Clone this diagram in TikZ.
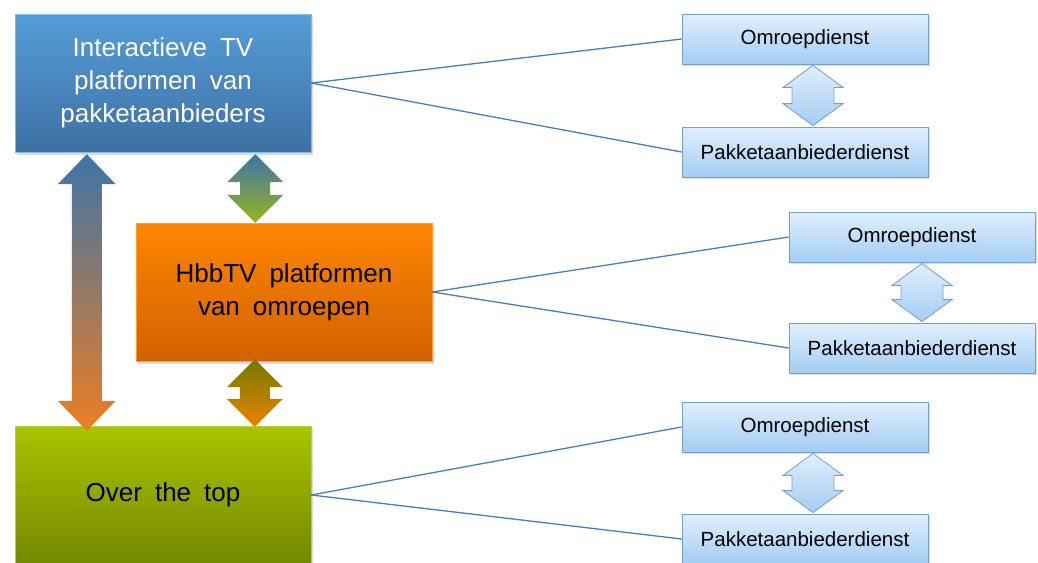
\documentclass[tikz,border=0pt]{standalone}
\usepackage{fontspec}
\setmainfont{Liberation Sans}
\usetikzlibrary{positioning}
\usetikzlibrary{calc}
\usetikzlibrary{shadows}
\definecolor{blauwboven}{RGB}{86,157,216}
\definecolor{blauwonder}{RGB}{61,112,163}
\definecolor{oranjeboven}{RGB}{255,134,2}
\definecolor{oranjeonder}{RGB}{208,98,0}
\definecolor{groenboven}{RGB}{170,196,0}
\definecolor{groenonder}{RGB}{116,136,0}
\definecolor{lichtboven}{RGB}{224,239,253}
\definecolor{lichtonder}{RGB}{164,205,243}
\definecolor{rand}{RGB}{112,160,208}
\definecolor{lijn}{RGB}{74,126,187}
\definecolor{pijlblauw}{RGB}{62,116,168}
\definecolor{pijloranje}{RGB}{236,126,34}
\definecolor{pijlgroen}{RGB}{150,182,28}
\definecolor{pijlolijf}{RGB}{118,120,0}
\definecolor{pijlgeel}{RGB}{232,132,0}
\tikzset{
    blok/.style={
        rectangle,
        minimum width=296pt,
        minimum height=138pt,
        align=center,
        font={\fontsize{26}{33}\selectfont\spaceskip=.5em\relax},
        drop shadow={shadow xshift=1.5pt, shadow yshift=-2.5pt, opacity=.3}},
    dienst/.style={
        rectangle,
        draw=rand,
        thick,
        top color=lichtboven,
        bottom color=lichtonder,
        minimum width=246pt,
        minimum height=50pt,
        font=\fontsize{20.5}{24}\selectfont,
        drop shadow={shadow xshift=1.5pt, shadow yshift=-2pt, opacity=.25}},
    every edge/.style={
        draw=lijn,
        line width=1.3pt}}
% dubbele blokpijl: stijl, top, onderkant, halve schacht, halve kop, koplengte
\newcommand{\dubbelpijl}[6]{%
    \path[#1] let \p1=(#2), \p2=(#3) in
        (\x1,\y1) -- (\x1+#5,\y1-#6) -- (\x1+#4,\y1-#6) -- (\x1+#4,\y2+#6)
        -- (\x1+#5,\y2+#6) -- (\x1,\y2) -- (\x1-#5,\y2+#6) -- (\x1-#4,\y2+#6)
        -- (\x1-#4,\y1-#6) -- (\x1-#5,\y1-#6) -- cycle;}

\begin{document}
\begin{tikzpicture}[x=1pt,y=-1pt]
        \useasboundingbox (0,0) rectangle (1038,562);

        \node[blok,top color=blauwboven,bottom color=blauwonder,draw=blauwboven!70!white,text=white] (itv) at (163,83) {Interactieve TV\\platformen van\\pakketaanbieders};
        \node[blok,top color=oranjeboven,bottom color=oranjeonder,draw=oranjeboven!80!white] (hbb) at (284,292) {HbbTV platformen\\van omroepen};
        \node[blok,top color=groenboven,bottom color=groenonder,draw=groenboven!80!white] (ott) at (163,495) {Over the top};

        \node[dienst] (omr1) at (805,39) {Omroepdienst};
        \node[dienst] (pak1) at (805,152) {Pakketaanbiederdienst};
        \node[dienst] (omr2) at (912,237) {Omroepdienst};
        \node[dienst] (pak2) at (912,348) {Pakketaanbiederdienst};
        \node[dienst] (omr3) at (805,427) {Omroepdienst};
        \node[dienst] (pak3) at (805,539) {Pakketaanbiederdienst};

        \draw (itv.east) edge (omr1.west) edge (pak1.west);
        \draw (hbb.east) edge (omr2.west) edge (pak2.west);
        \draw (ott.east) edge (omr3.west) edge (pak3.west);

        %\draw (itv) edge[<->] (ott);
        \dubbelpijl{top color=pijlblauw,bottom color=pijloranje}{$(itv.south west)+(72,2)$}{$(ott.north west)+(72,5)$}{15}{29}{30}
        \dubbelpijl{top color=pijlblauw,bottom color=pijlgroen}{$(itv.south east)+(-56,2)$}{$(hbb.north west)+(119,0)$}{15}{28}{28}
        \dubbelpijl{top color=pijlolijf,bottom color=pijlgeel}{$(hbb.south west)+(119,-2)$}{$(ott.north east)+(-56,1)$}{15}{28}{28}

        \dubbelpijl{draw=rand,thick,top color=lichtboven,bottom color=lichtonder}{$(omr1.south)+(8,1)$}{$(pak1.north)+(8,-1)$}{21}{30}{22}
        \dubbelpijl{draw=rand,thick,top color=lichtboven,bottom color=lichtonder}{$(omr2.south)+(10,1)$}{$(pak2.north)+(10,-1)$}{21}{30}{22}
        \dubbelpijl{draw=rand,thick,top color=lichtboven,bottom color=lichtonder}{$(omr3.south)+(8,1)$}{$(pak3.north)+(8,-1)$}{21}{30}{22}
    \end{tikzpicture}
\end{document}
